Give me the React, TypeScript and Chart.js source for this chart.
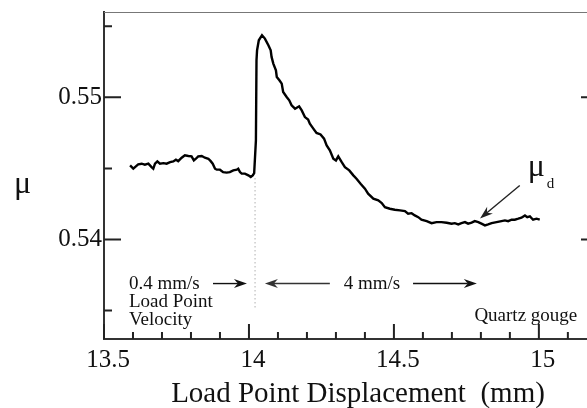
import React, { useEffect, useRef } from "react";
import { Chart, registerables } from "chart.js";

Chart.register(...registerables);

// Load point displacement (mm)
const displacement = [
  13.590, 13.601, 13.607, 13.618, 13.630, 13.641, 13.653, 13.664, 13.670, 13.676,
  13.684, 13.693, 13.705, 13.716, 13.728, 13.739, 13.748, 13.756, 13.768, 13.779,
  13.791, 13.802, 13.810, 13.817, 13.825, 13.837, 13.848, 13.860, 13.868, 13.875,
  13.883, 13.889, 13.900, 13.911, 13.923, 13.934, 13.946, 13.958, 13.963, 13.969,
  13.975, 13.986, 13.998, 14.006, 14.013, 14.018, 14.024, 14.026, 14.028, 14.034,
  14.045, 14.055, 14.067, 14.075, 14.078, 14.084, 14.093, 14.096, 14.105, 14.113,
  14.118, 14.130, 14.139, 14.147, 14.159, 14.173, 14.182, 14.193, 14.204, 14.210,
  14.222, 14.233, 14.247, 14.259, 14.268, 14.279, 14.291, 14.300, 14.308, 14.320,
  14.331, 14.346, 14.360, 14.371, 14.385, 14.400, 14.411, 14.429, 14.446, 14.458,
  14.469, 14.486, 14.503, 14.521, 14.538, 14.549, 14.561, 14.572, 14.584, 14.595,
  14.613, 14.630, 14.647, 14.664, 14.682, 14.699, 14.710, 14.722, 14.733, 14.745,
  14.756, 14.768, 14.779, 14.791, 14.802, 14.814, 14.825, 14.837, 14.854, 14.871,
  14.883, 14.894, 14.906, 14.917, 14.929, 14.940, 14.952, 14.960, 14.969, 14.980,
  14.992, 15.003,
];
// Friction coefficient mu
const friction = [
  0.54521, 0.54498, 0.54509, 0.54528, 0.54533, 0.54526, 0.54533, 0.54509, 0.54498, 0.54533,
  0.54549, 0.54533, 0.54537, 0.54533, 0.54544, 0.54549, 0.54561, 0.54551, 0.54575, 0.54592,
  0.54587, 0.54585, 0.54556, 0.54568, 0.54585, 0.54587, 0.54575, 0.54568, 0.54551, 0.54533,
  0.54498, 0.54491, 0.54491, 0.54474, 0.54470, 0.54474, 0.54486, 0.54491, 0.54498, 0.54474,
  0.54463, 0.54463, 0.54451, 0.54439, 0.54451, 0.54467, 0.54697, 0.55260, 0.55331, 0.55401,
  0.55437, 0.55413, 0.55366, 0.55331, 0.55284, 0.55237, 0.55190, 0.55143, 0.55120, 0.55096,
  0.55037, 0.55002, 0.54979, 0.54944, 0.54920, 0.54937, 0.54908, 0.54861, 0.54843, 0.54815,
  0.54780, 0.54749, 0.54739, 0.54709, 0.54662, 0.54627, 0.54568, 0.54556, 0.54585, 0.54544,
  0.54509, 0.54486, 0.54451, 0.54427, 0.54392, 0.54357, 0.54322, 0.54287, 0.54275, 0.54256,
  0.54227, 0.54216, 0.54209, 0.54205, 0.54199, 0.54181, 0.54185, 0.54169, 0.54157, 0.54139,
  0.54129, 0.54115, 0.54122, 0.54122, 0.54118, 0.54111, 0.54115, 0.54106, 0.54115, 0.54122,
  0.54111, 0.54118, 0.54129, 0.54122, 0.54111, 0.54099, 0.54106, 0.54115, 0.54122, 0.54129,
  0.54134, 0.54129, 0.54139, 0.54139, 0.54146, 0.54153, 0.54169, 0.54157, 0.54162, 0.54139,
  0.54146, 0.54139,
];

const xTickLabels = [13.5, 14, 14.5, 15];
const xMinorTicks = [13.6, 13.7, 13.8, 13.9, 14.1, 14.2, 14.3, 14.4, 14.6, 14.7, 14.8, 14.9, 15.1];
const yTickLabels = [0.54, 0.55];
const yMinorTicks = [0.535, 0.545, 0.555];

const xAxisTitle = "Load Point Displacement  (mm)";
const yAxisTitle = "\u03bc";
const slowLabel = ["0.4 mm/s", "Load Point", "Velocity"];
const fastLabel = "4 mm/s";
const materialLabel = "Quartz gouge";
const muD = ["\u03bc", "d"];

// annotation anchors (data units)
const stepX = 14.021;
const stepTop = 0.5443;
const stepBottom = 0.53521;
const arrowRowY = 0.5369;
const slowArrow = [13.876, 13.993];
const fastLeftArrow = [14.279, 14.055];
const fastRightArrow = [14.566, 14.786];
const fastTextX = 14.424;
const slowTextX = 13.586;
const materialX = 14.955;
const materialY = 0.5343;
const muDX = 14.962;
const muDY = 0.54444;
const muDArrowFrom = [14.934, 0.5438];
const muDArrowTo = [14.797, 0.54148];

const SERIF = '"Liberation Serif", "Times New Roman", serif';

function drawArrow(ctx: CanvasRenderingContext2D, x1: number, y1: number, x2: number, y2: number, color: string) {
  const ang = Math.atan2(y2 - y1, x2 - x1);
  const ux = Math.cos(ang), uy = Math.sin(ang);
  const px = -uy, py = ux;
  const L = 13, W = 4.5, N = 9;
  ctx.strokeStyle = color;
  ctx.fillStyle = color;
  ctx.lineWidth = 1.4;
  ctx.beginPath();
  ctx.moveTo(x1, y1);
  ctx.lineTo(x2 - N * ux, y2 - N * uy);
  ctx.stroke();
  ctx.beginPath();
  ctx.moveTo(x2, y2);
  ctx.lineTo(x2 - L * ux + W * px, y2 - L * uy + W * py);
  ctx.lineTo(x2 - N * ux, y2 - N * uy);
  ctx.lineTo(x2 - L * ux - W * px, y2 - L * uy - W * py);
  ctx.closePath();
  ctx.fill();
}

const annotations = {
  id: "annotations",
  afterDatasetsDraw(chart: any) {
    const { ctx, chartArea } = chart;
    const xs = chart.scales.x;
    const ys = chart.scales.y;
    const X = (v: number) => xs.getPixelForValue(v);
    const Y = (v: number) => ys.getPixelForValue(v);
    ctx.save();

    // top frame
    ctx.strokeStyle = "#777";
    ctx.lineWidth = 1;
    ctx.beginPath();
    ctx.moveTo(chartArea.left, chartArea.top + 0.5);
    ctx.lineTo(chartArea.right, chartArea.top + 0.5);
    ctx.stroke();

    // inward ticks
    ctx.strokeStyle = "#222";
    ctx.lineWidth = 2;
    const b = chartArea.bottom, l = chartArea.left, r = chartArea.right;
    ctx.beginPath();
    xTickLabels.forEach((v) => { ctx.moveTo(X(v), b); ctx.lineTo(X(v), b - 15); });
    xMinorTicks.forEach((v) => { ctx.moveTo(X(v), b); ctx.lineTo(X(v), b - 7); });
    yTickLabels.forEach((v) => { ctx.moveTo(l, Y(v)); ctx.lineTo(l + 17, Y(v)); });
    yMinorTicks.forEach((v) => { ctx.moveTo(l, Y(v)); ctx.lineTo(l + 8, Y(v)); });
    yTickLabels.forEach((v) => { ctx.moveTo(r, Y(v)); ctx.lineTo(r - 6, Y(v)); });
    ctx.stroke();

    // dotted step line
    ctx.strokeStyle = "#888";
    ctx.lineWidth = 1;
    ctx.setLineDash([1, 3]);
    ctx.beginPath();
    ctx.moveTo(X(stepX), Y(stepTop));
    ctx.lineTo(X(stepX), Y(stepBottom));
    ctx.stroke();
    ctx.setLineDash([]);

    // arrows
    const ay = Y(arrowRowY);
    drawArrow(ctx, X(slowArrow[0]), ay, X(slowArrow[1]), ay, "#111");
    drawArrow(ctx, X(fastLeftArrow[0]), ay, X(fastLeftArrow[1]), ay, "#333");
    drawArrow(ctx, X(fastRightArrow[0]), ay, X(fastRightArrow[1]), ay, "#111");
    drawArrow(ctx, X(muDArrowFrom[0]), Y(muDArrowFrom[1]), X(muDArrowTo[0]), Y(muDArrowTo[1]), "#222");

    // texts
    ctx.fillStyle = "#111";
    ctx.textBaseline = "alphabetic";
    ctx.font = `19px ${SERIF}`;
    ctx.textAlign = "left";
    slowLabel.forEach((t, i) => ctx.fillText(t, X(slowTextX), ay + 5 + i * 18));
    ctx.textAlign = "center";
    ctx.fillText(fastLabel, X(fastTextX), ay + 5);
    ctx.fillText(materialLabel, X(materialX), Y(materialY));

    // mu_d
    ctx.textAlign = "left";
    ctx.font = `32px ${SERIF}`;
    ctx.fillText(muD[0], X(muDX), Y(muDY));
    ctx.font = `15px ${SERIF}`;
    ctx.fillText(muD[1], X(muDX) + 19, Y(muDY) + 12);

    // axis titles
    ctx.font = `32px ${SERIF}`;
    ctx.fillText(yAxisTitle, 14, 193);
    ctx.font = `29px ${SERIF}`;
    ctx.textAlign = "center";
    ctx.fillText(xAxisTitle, 358, 402);

    ctx.restore();
  },
};

export default function App() {
  const ref = useRef<HTMLCanvasElement>(null);
  useEffect(() => {
    const data = displacement.map((x, i) => ({ x, y: friction[i] }));
    const chart = new Chart(ref.current as HTMLCanvasElement, {
      type: "line",
      data: {
        datasets: [
          {
            data,
            borderColor: "#000",
            borderWidth: 2.4,
            pointRadius: 0,
            tension: 0,
            fill: false,
          },
        ],
      },
      options: {
        responsive: false,
        animation: false,
        devicePixelRatio: 1,
        layout: { padding: { top: 12, right: 0, left: 0, bottom: 0 } },
        plugins: { legend: { display: false }, tooltip: { enabled: false } },
        scales: {
          x: {
            type: "linear",
            min: 13.5,
            max: 15.166,
            afterBuildTicks: (s: any) => { s.ticks = xTickLabels.map((value) => ({ value })); },
            afterFit: (s: any) => { s.height = 69; s.paddingLeft = 0; s.paddingRight = 0; },
            grid: { display: true, drawOnChartArea: false, drawTicks: false },
            border: { display: true, color: "#333", width: 2 },
            ticks: {
              color: "#111",
              font: { family: SERIF, size: 25 },
              padding: 6,
              labelOffset: 4,
              maxRotation: 0,
              autoSkip: false,
              callback: (v: any) => String(v),
            },
          },
          y: {
            type: "linear",
            min: 0.533,
            max: 0.556,
            afterBuildTicks: (s: any) => { s.ticks = yTickLabels.map((value) => ({ value })); },
            afterFit: (s: any) => { s.width = 104; s.paddingTop = 0; s.paddingBottom = 0; },
            grid: { display: true, drawOnChartArea: false, drawTicks: false },
            border: { display: true, color: "#333", width: 2 },
            ticks: {
              color: "#111",
              font: { family: SERIF, size: 25 },
              padding: 2,
              callback: (v: any) => Number(v).toFixed(2),
            },
          },
        },
      },
      plugins: [annotations],
    });
    return () => chart.destroy();
  }, []);
  return (
    <div style={{ position: "fixed", left: 0, top: 0, width: 587, height: 408, background: "#fff" }}>
      <canvas ref={ref} width={587} height={408} style={{ width: 587, height: 408, display: "block" }} />
    </div>
  );
}
